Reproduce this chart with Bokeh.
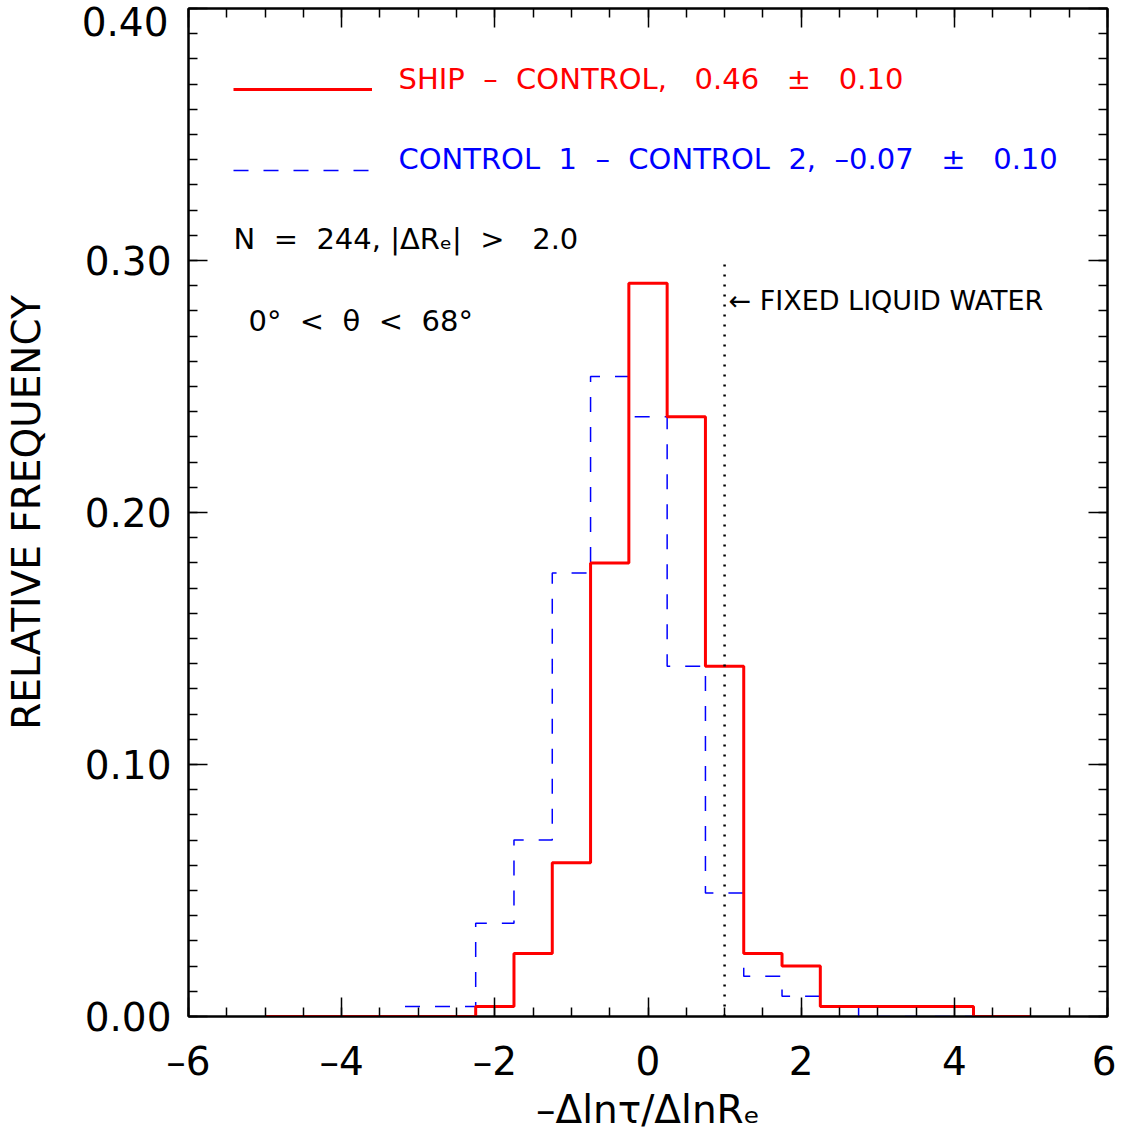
from bokeh.plotting import figure
from bokeh.models import (Range1d, LinearAxis, SingleIntervalTicker, FixedTicker,
                          PrintfTickFormatter, Legend, LegendItem, Label)
from bokeh.embed import file_html
from bokeh.resources import INLINE

# ---- data (relative frequency per bin, bin centres every 0.5) ----
bin_centers = [-5.0, -4.5, -4.0, -3.5, -3.0, -2.5, -2.0, -1.5, -1.0, -0.5, 0.0,
               0.5, 1.0, 1.5, 2.0, 2.5, 3.0, 3.5, 4.0, 4.5, 5.0]
ship_minus_control = [0.0, 0.0, 0.0, 0.0, 0.0, 0.0, 0.004, 0.025, 0.061, 0.180, 0.291,
                      0.238, 0.139, 0.025, 0.020, 0.004, 0.004, 0.004, 0.004, 0.0, 0.0]
control1_minus_control2 = [0.0, 0.0, 0.0, 0.0, 0.004, 0.004, 0.037, 0.070, 0.176, 0.254, 0.238,
                           0.139, 0.049, 0.016, 0.008, 0.004, 0.0, 0.0, 0.0, 0.0, 0.0]
fixed_lwp_slope = 1.0
fixed_lwp_top = 0.30

y_ticks = [0.0, 0.1, 0.2, 0.3, 0.4]
x_tick_labels = {-6: "–6", -4: "–4", -2: "–2", 0: "0", 2: "2", 4: "4", 6: "6"}

red_label = "SHIP – CONTROL,  0.46  ±  0.10"
blue_label = "CONTROL 1 – CONTROL 2, –0.07  ±  0.10"
n_label = "N = 244,|ΔRₑ| >  2.0"
theta_label = "0° < θ < 68°"
fixed_label = "← FIXED LIQUID WATER"
x_title = "–Δlnτ/ΔlnRₑ"
y_title = "RELATIVE FREQUENCY"

FONT = "DejaVu Sans"
NB = "\u00a0"


def wide(s):
    # the original plotting font has very wide word spaces
    s = s.replace("  ", NB * 3).replace(" ", NB * 2)
    return s.replace(",|", "," + NB + "|")


p = figure(width=1116, height=1140, x_range=Range1d(-6, 6), y_range=Range1d(0, 0.4),
           x_axis_type=None, y_axis_type=None,
           output_backend="svg", toolbar_location=None,
           min_border_left=188, min_border_right=9, min_border_top=8, min_border_bottom=124)
p.grid.visible = False
p.outline_line_color = "black"
p.outline_line_width = 2
p.background_fill_color = "white"
p.border_fill_color = "white"

# the top tick label sits a little below the frame edge in the original:
# it is drawn by an outer label-only axis on a slightly shifted range
shift = 0.4 * 13 / 1008
p.extra_y_ranges = {"toplabel": Range1d(shift, 0.4 + shift)}

bottom = LinearAxis()
top = LinearAxis()
left = LinearAxis()
left_top_label = LinearAxis(y_range_name="toplabel")
right = LinearAxis()
p.add_layout(bottom, "below")
p.add_layout(top, "above")
p.add_layout(left, "left")
p.add_layout(left_top_label, "left")
p.add_layout(right, "right")

for ax in [bottom, top]:
    ax.ticker = SingleIntervalTicker(interval=2, num_minor_ticks=4)
    ax.major_label_overrides = dict(x_tick_labels)
y_minor = [round(i * 0.01, 2) for i in range(41)]
for ax in [left, right]:
    ax.ticker = FixedTicker(ticks=y_ticks, minor_ticks=y_minor)
left_top_label.ticker = FixedTicker(ticks=[y_ticks[-1]], minor_ticks=[])

for ax in [bottom, top, left, right, left_top_label]:
    ax.major_tick_in = 19
    ax.major_tick_out = 0
    ax.minor_tick_in = 9
    ax.minor_tick_out = 0
    ax.major_tick_line_width = 1.5
    ax.minor_tick_line_width = 1.5
    ax.major_tick_line_color = "black"
    ax.minor_tick_line_color = "black"
    ax.axis_line_color = "black"
    ax.axis_line_width = 2
    ax.major_label_text_font = FONT
    ax.major_label_text_font_size = "39px"
    ax.major_label_text_color = "black"
    ax.axis_label_text_font = FONT
    ax.axis_label_text_font_size = "39px"
    ax.axis_label_text_font_style = "normal"
    ax.axis_label_text_color = "black"
for ax in [left, right, left_top_label]:
    ax.formatter = PrintfTickFormatter(format="%.2f")

top.major_label_overrides = {k: "" for k in x_tick_labels}
right.major_label_overrides = {k: "" for k in y_ticks}
for ax in [top, right]:
    ax.major_label_text_font_size = "0px"
    ax.major_label_text_alpha = 0
    ax.major_label_standoff = 0
    ax.axis_label_standoff = 0

left.major_label_overrides = {y_ticks[-1]: ""}
left.major_label_standoff = 17

left_top_label.major_tick_line_color = None
left_top_label.minor_tick_line_color = None
left_top_label.major_tick_in = 0
left_top_label.minor_tick_in = 0
left_top_label.axis_line_color = None
left_top_label.major_label_standoff = -87
left_top_label.axis_label = y_title
left_top_label.axis_label_standoff = 30

bottom.major_label_standoff = 22
bottom.axis_label = x_title
bottom.axis_label_standoff = 0

blue = p.step(bin_centers, control1_minus_control2, mode="center",
              line_color="blue", line_width=1.5, line_dash="15 15")
red = p.step(bin_centers, ship_minus_control, mode="center",
             line_color="red", line_width=3)
p.segment(x0=[fixed_lwp_slope], y0=[0], x1=[fixed_lwp_slope], y1=[fixed_lwp_top],
          line_color="black", line_width=2.5, line_dash="2 8")


def make_legend(rend, loc):
    lg = Legend(items=[LegendItem(label=NB, renderers=[rend])], location=loc,
                padding=0, margin=0, spacing=0, border_line_alpha=0,
                background_fill_alpha=0, glyph_width=139, glyph_height=20,
                label_height=20, label_standoff=0,
                label_text_font=FONT, label_text_font_size="32px")
    p.add_layout(lg)


make_legend(red, (45, 908))
make_legend(blue, (45, 827))

for txt, x, y, color, size in [
        (wide(red_label), -3.258, 0.3721, "red", "29px"),
        (wide(blue_label), -3.258, 0.3403, "blue", "29px"),
        (wide(n_label), -5.412, 0.3086, "black", "29px"),
        (wide(theta_label), -5.217, 0.2760, "black", "29px"),
        (fixed_label.replace(" ", NB), 1.051, 0.2840, "black", "27px")]:
    p.add_layout(Label(x=x, y=y, text=txt, text_font=FONT, text_font_size=size,
                       text_color=color, text_baseline="alphabetic"))

open("out.html", "w").write(file_html(p, INLINE))
